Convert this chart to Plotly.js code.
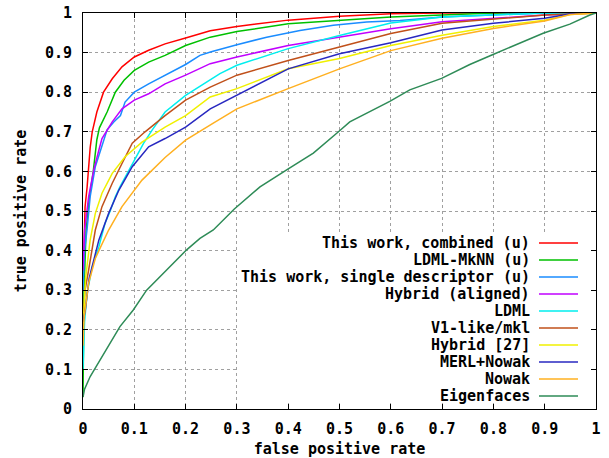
<!DOCTYPE html>
<html>
<head>
<meta charset="utf-8">
<script src="https://cdn.plot.ly/plotly-3.0.1.min.js"></script>
<style>html,body{margin:0;padding:0;background:#fff;}#chart{width:609px;height:458px;}</style>
</head>
<body>
<div id="chart"></div>
<script>
// Series names (legend order) and colours
const seriesNames = ["This work, combined (u)", "LDML-MkNN (u)", "This work, single descriptor (u)", "Hybrid (aligned)", "LDML", "V1-like/mkl", "Hybrid [27]", "MERL+Nowak", "Nowak", "Eigenfaces"];
const seriesColors = ["#ff0000", "#00c000", "#1a8cff", "#c000ff", "#00eeee", "#c0501a", "#f0f000", "#2828c0", "#ffb020", "#2e8b57"];

// ROC points (false positive rate, true positive rate)
const fprCombined = [0, 0.002, 0.004, 0.008, 0.014, 0.018, 0.027, 0.040, 0.057, 0.076, 0.10, 0.128, 0.16, 0.20, 0.248, 0.30, 0.40, 0.50, 0.60, 0.70, 1];
const tprCombined = [0.30, 0.46, 0.51, 0.56, 0.66, 0.70, 0.75, 0.80, 0.834, 0.864, 0.889, 0.906, 0.922, 0.937, 0.955, 0.966, 0.982, 0.992, 0.998, 1, 1];

const fprMkNN = [0, 0.002, 0.006, 0.012, 0.020, 0.027, 0.032, 0.047, 0.063, 0.08, 0.10, 0.128, 0.16, 0.20, 0.248, 0.30, 0.40, 0.50, 0.60, 0.70, 0.80, 1];
const tprMkNN = [0.03, 0.30, 0.45, 0.53, 0.60, 0.68, 0.71, 0.75, 0.80, 0.83, 0.855, 0.876, 0.893, 0.918, 0.939, 0.953, 0.973, 0.981, 0.990, 0.995, 1, 1];

const fprSingle = [0, 0.003, 0.008, 0.014, 0.024, 0.037, 0.047, 0.06, 0.073, 0.082, 0.10, 0.128, 0.16, 0.20, 0.228, 0.25, 0.30, 0.358, 0.423, 0.488, 0.553, 0.618, 0.70, 0.80, 0.90, 1];
const tprSingle = [0.30, 0.40, 0.455, 0.536, 0.612, 0.662, 0.705, 0.725, 0.741, 0.775, 0.80, 0.821, 0.843, 0.870, 0.893, 0.902, 0.920, 0.939, 0.956, 0.969, 0.977, 0.981, 0.99, 0.995, 1, 1];

const fprHybridAligned = [0, 0.003, 0.011, 0.021, 0.031, 0.037, 0.057, 0.076, 0.10, 0.128, 0.16, 0.20, 0.248, 0.30, 0.40, 0.50, 0.60, 0.70, 0.80, 0.90, 1];
const tprHybridAligned = [0.35, 0.45, 0.536, 0.604, 0.654, 0.683, 0.725, 0.758, 0.78, 0.796, 0.821, 0.843, 0.872, 0.889, 0.918, 0.939, 0.96, 0.978, 0.987, 0.995, 1];

const fprLDML = [0, 0.003, 0.008, 0.018, 0.031, 0.043, 0.053, 0.063, 0.072, 0.096, 0.118, 0.135, 0.16, 0.20, 0.248, 0.267, 0.30, 0.40, 0.50, 0.60, 0.70, 0.80, 0.90, 1];
const tprLDML = [0.10, 0.22, 0.293, 0.359, 0.41, 0.469, 0.50, 0.536, 0.561, 0.620, 0.671, 0.705, 0.75, 0.792, 0.830, 0.847, 0.868, 0.91, 0.943, 0.975, 0.99, 0.995, 1, 1];

const fprV1 = [0, 0.004, 0.011, 0.024, 0.037, 0.057, 0.076, 0.096, 0.121, 0.16, 0.20, 0.248, 0.30, 0.40, 0.50, 0.60, 0.70, 0.80, 0.90, 1];
const tprV1 = [0.22, 0.30, 0.351, 0.452, 0.511, 0.570, 0.620, 0.671, 0.70, 0.741, 0.78, 0.813, 0.843, 0.880, 0.914, 0.948, 0.974, 0.984, 0.995, 1];

const fprHybrid27 = [0, 0.005, 0.014, 0.024, 0.037, 0.057, 0.082, 0.115, 0.16, 0.20, 0.248, 0.30, 0.40, 0.50, 0.60, 0.70, 0.80, 0.90, 0.95, 1];
const tprHybrid27 = [0.20, 0.33, 0.427, 0.494, 0.545, 0.595, 0.637, 0.674, 0.712, 0.741, 0.788, 0.809, 0.859, 0.885, 0.918, 0.944, 0.966, 0.982, 0.996, 1];

const fprMerlNowak = [0, 0.0045, 0.012, 0.031, 0.050, 0.070, 0.096, 0.128, 0.16, 0.20, 0.248, 0.30, 0.40, 0.50, 0.60, 0.70, 0.80, 0.90, 0.96, 1];
const tprMerlNowak = [0.22, 0.25, 0.33, 0.427, 0.494, 0.553, 0.612, 0.662, 0.683, 0.712, 0.758, 0.792, 0.859, 0.897, 0.925, 0.957, 0.974, 0.987, 1, 1];

const fprNowak = [0, 0.002, 0.011, 0.024, 0.031, 0.050, 0.076, 0.115, 0.16, 0.20, 0.254, 0.30, 0.40, 0.50, 0.60, 0.70, 0.80, 0.90, 0.95, 1];
const tprNowak = [0.16, 0.23, 0.318, 0.38, 0.40, 0.452, 0.511, 0.578, 0.635, 0.679, 0.722, 0.758, 0.809, 0.859, 0.905, 0.936, 0.961, 0.980, 0.996, 1];

const fprEigen = [0, 0.003, 0.014, 0.033, 0.053, 0.072, 0.098, 0.124, 0.163, 0.202, 0.228, 0.254, 0.295, 0.345, 0.397, 0.449, 0.498, 0.520, 0.598, 0.637, 0.699, 0.754, 0.797, 0.871, 0.897, 0.949, 0.988, 1];
const tprEigen = [0.03, 0.05, 0.082, 0.124, 0.166, 0.208, 0.25, 0.30, 0.351, 0.402, 0.431, 0.452, 0.505, 0.561, 0.604, 0.646, 0.700, 0.725, 0.777, 0.806, 0.835, 0.870, 0.894, 0.936, 0.949, 0.972, 0.995, 1];

const xs = [fprCombined, fprMkNN, fprSingle, fprHybridAligned, fprLDML, fprV1, fprHybrid27, fprMerlNowak, fprNowak, fprEigen];
const ys = [tprCombined, tprMkNN, tprSingle, tprHybridAligned, tprLDML, tprV1, tprHybrid27, tprMerlNowak, tprNowak, tprEigen];

const tickVals = [0, 0.1, 0.2, 0.3, 0.4, 0.5, 0.6, 0.7, 0.8, 0.9, 1];
const tickText = ["0", "0.1", "0.2", "0.3", "0.4", "0.5", "0.6", "0.7", "0.8", "0.9", "1"];

const FONT = {family: "DejaVu Sans Mono", size: 15, color: "#000", weight: "bold"};

const traces = seriesNames.map((n, i) => ({
  type: "scatter", mode: "lines", name: n,
  x: xs[i], y: ys[i],
  line: {color: seriesColors[i], width: 1.5, shape: "linear"},
  showlegend: false, hoverinfo: "skip"
}));

// custom gnuplot-style key (text right, sample on the right)
const keyRight = 0.8733, keyTop = 243, keyStep = 17, plotH = 396;
const annotations = [];
const shapes = [{
  type: "rect", xref: "paper", yref: "paper", layer: "above",
  x0: (237 - 83) / 513, x1: 1 - 6 / 513, y0: 6 / plotH, y1: (409 - 234) / plotH,
  fillcolor: "#ffffff", line: {width: 0}
}];
seriesNames.forEach((n, i) => {
  const py = keyTop + i * keyStep;
  const yp = (409 - py) / plotH;
  annotations.push({xref: "paper", yref: "paper", x: keyRight, y: yp, xanchor: "right", yanchor: "middle",
    text: n, showarrow: false, font: FONT, height: 16, borderpad: 0, valign: "middle"});
  shapes.push({type: "line", xref: "paper", yref: "paper", layer: "above",
    x0: (539 - 83) / 513, x1: (578 - 83) / 513, y0: yp, y1: yp,
    line: {color: seriesColors[i], width: 1.5}});
});

const axisCommon = {
  range: [0, 1], tickvals: tickVals, ticktext: tickText,
  showgrid: true, gridcolor: "#a0a0a0", gridwidth: 1, griddash: "3px,3px",
  zeroline: false, showline: true, linecolor: "#000", linewidth: 1,
  mirror: "ticks", ticks: "inside", ticklen: 5, tickcolor: "#000", tickwidth: 1,
  tickfont: FONT, fixedrange: true
};

const layout = {
  width: 609, height: 458,
  margin: {l: 83, r: 13, t: 13, b: 49, pad: 0},
  paper_bgcolor: "#fff", plot_bgcolor: "#fff",
  showlegend: false,
  xaxis: Object.assign({}, axisCommon, {title: {text: "false positive rate", font: FONT, standoff: 9}, ticklabelstandoff: 6}),
  yaxis: Object.assign({}, axisCommon, {title: {text: "true positive rate", font: FONT, standoff: 14}, ticklabelstandoff: 7}),
  annotations: annotations,
  shapes: shapes
};

Plotly.newPlot("chart", traces, layout, {staticPlot: true, displayModeBar: false});
</script>
</body>
</html>
